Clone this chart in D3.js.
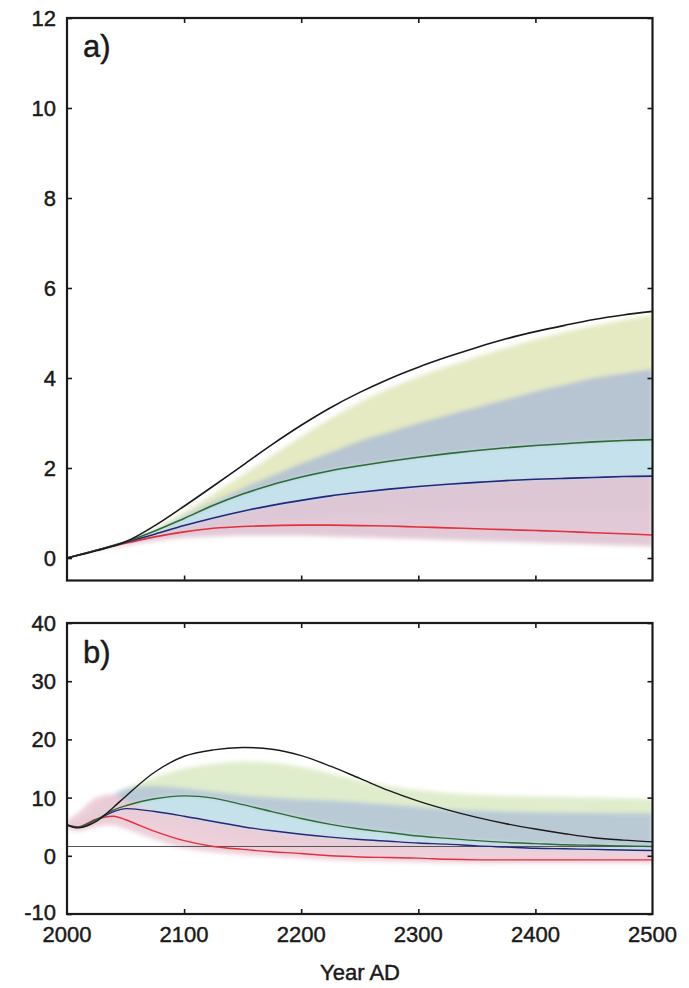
<!DOCTYPE html>
<html>
<head>
<meta charset="utf-8">
<script src="https://cdn.jsdelivr.net/npm/d3@7"></script>
<style>
  body { margin: 0; background: #fff; }
  svg { display: block; }
  text { font-family: "Liberation Sans", Arial, sans-serif; fill: #1a1a1a; stroke: #1a1a1a; stroke-width: 0.45px; }
</style>
</head>
<body>
<svg id="chart" width="689" height="988"></svg>
<script>
// panel a) years and series
const aYears = [2000, 2025, 2050, 2075, 2100, 2125, 2150, 2175, 2200, 2225, 2250,
  2275, 2300, 2325, 2350, 2375, 2400, 2425, 2450, 2475, 2500];
const aBlack = [0, 0.16, 0.36, 0.72, 1.15, 1.6, 2.06, 2.52, 2.95, 3.34, 3.68, 3.98, 4.24, 4.47, 4.68, 4.87, 5.03, 5.17, 5.3, 5.4, 5.48];
const aGreen = [0, 0.17, 0.36, 0.6, 0.88, 1.17, 1.42, 1.63, 1.8, 1.94, 2.05, 2.15, 2.24, 2.32, 2.39, 2.45, 2.5, 2.54, 2.58, 2.61, 2.63];
const aBlue = [0, 0.17, 0.35, 0.53, 0.72, 0.89, 1.04, 1.17, 1.28, 1.38, 1.46, 1.53, 1.59, 1.64, 1.68, 1.72, 1.75, 1.77, 1.79, 1.81, 1.82];
const aRed = [0, 0.17, 0.33, 0.47, 0.58, 0.66, 0.7, 0.72, 0.73, 0.73, 0.72, 0.71, 0.69, 0.67, 0.65, 0.63, 0.61, 0.59, 0.56, 0.54, 0.51];

// panel a) uncertainty bands (upper / lower)
const aYellowHi = [0, 0.16, 0.35, 0.66, 1.02, 1.43, 1.85, 2.28, 2.7, 3.1, 3.46, 3.77, 4.03, 4.26, 4.47, 4.67, 4.86, 5.02, 5.16, 5.29, 5.4];
const aYellowLo = [0, 0.16, 0.34, 0.56, 0.8, 1.05, 1.28, 1.48, 1.62, 1.75, 1.85, 1.93, 2.0, 2.06, 2.12, 2.17, 2.22, 2.26, 2.3, 2.33, 2.36];
const aGrayHi = [0, 0.16, 0.35, 0.6, 0.93, 1.25, 1.55, 1.83, 2.1, 2.35, 2.6, 2.8, 3.0, 3.18, 3.35, 3.52, 3.7, 3.85, 4.0, 4.1, 4.2];
const aGrayLo = [0, 0.16, 0.34, 0.5, 0.68, 0.85, 1.0, 1.12, 1.22, 1.3, 1.38, 1.45, 1.5, 1.55, 1.58, 1.6, 1.63, 1.65, 1.67, 1.69, 1.7];
const aCyanHi = [0, 0.16, 0.35, 0.6, 0.88, 1.17, 1.42, 1.63, 1.8, 1.94, 2.05, 2.15, 2.24, 2.32, 2.39, 2.45, 2.5, 2.54, 2.58, 2.61, 2.63];
const aCyanLo = [0, 0.16, 0.33, 0.48, 0.6, 0.7, 0.78, 0.85, 0.9, 0.95, 0.98, 1.0, 1.02, 1.03, 1.04, 1.05, 1.05, 1.05, 1.05, 1.05, 1.05];
const aPinkHi = [0, 0.16, 0.35, 0.53, 0.72, 0.89, 1.04, 1.17, 1.28, 1.38, 1.46, 1.53, 1.59, 1.64, 1.68, 1.72, 1.75, 1.77, 1.79, 1.81, 1.82];
const aPinkLo = [0, 0.15, 0.28, 0.38, 0.45, 0.48, 0.5, 0.5, 0.5, 0.48, 0.46, 0.44, 0.42, 0.4, 0.38, 0.36, 0.34, 0.32, 0.3, 0.28, 0.26];

// panel b) years and series
const bYears = [2000, 2010, 2025, 2040, 2050, 2075, 2100, 2125, 2150, 2175, 2200, 2225,
  2250, 2275, 2300, 2325, 2350, 2375, 2400, 2425, 2450, 2475, 2500];
const bBlack = [5.3, 4.8, 5.9, 8.4, 10.2, 14.4, 17.1, 18.2, 18.6, 18.3, 17.2, 15.4, 13.3, 11.2, 9.4, 7.9, 6.6, 5.5, 4.6, 3.8, 3.1, 2.7, 2.4];
const bGreen = [5.3, 4.9, 6.2, 7.9, 8.6, 9.8, 10.3, 9.9, 8.8, 7.6, 6.4, 5.4, 4.6, 4.0, 3.4, 3.0, 2.6, 2.3, 2.1, 1.9, 1.8, 1.7, 1.6];
const bBlue = [5.3, 4.9, 6.2, 7.6, 8.1, 7.6, 6.8, 5.9, 5.0, 4.3, 3.7, 3.2, 2.8, 2.5, 2.2, 2.0, 1.7, 1.5, 1.3, 1.2, 1.1, 1.0, 0.9];
const bRed = [5.3, 5.0, 6.3, 6.8, 6.2, 4.2, 2.6, 1.6, 1.1, 0.7, 0.4, 0.0, -0.2, -0.3, -0.4, -0.6, -0.7, -0.7, -0.7, -0.7, -0.7, -0.7, -0.7];

// panel b) uncertainty bands
const bYellowHi = [5.5, 6.0, 8.0, 10.0, 11.5, 13.5, 15.0, 15.8, 16.2, 16.0, 15.3, 14.2, 13.0, 12.0, 11.3, 10.8, 10.5, 10.3, 10.2, 10.1, 10.0, 9.9, 9.8];
const bYellowLo = [5.0, 4.6, 5.8, 7.2, 8.0, 8.8, 9.0, 8.6, 7.6, 6.6, 5.8, 4.9, 4.3, 3.8, 3.3, 2.9, 2.6, 2.4, 2.2, 2.0, 1.9, 1.8, 1.7];
const bGrayHi = [5.5, 6.0, 8.5, 10.5, 11.5, 12.0, 11.6, 11.0, 10.4, 10.0, 9.7, 9.5, 9.2, 8.8, 8.4, 8.0, 7.8, 7.6, 7.5, 7.4, 7.4, 7.3, 7.3];
const bGrayLo = [5.0, 4.6, 5.8, 7.0, 7.5, 7.0, 6.2, 5.4, 4.6, 4.0, 3.5, 3.0, 2.6, 2.3, 2.1, 1.9, 1.7, 1.5, 1.3, 1.2, 1.1, 1.0, 0.9];
const bCyanHi = [5.3, 4.9, 6.2, 7.9, 8.6, 9.8, 10.3, 9.9, 8.8, 7.6, 6.4, 5.4, 4.6, 4.0, 3.4, 3.0, 2.6, 2.3, 2.1, 1.9, 1.8, 1.7, 1.6];
const bCyanLo = [5.0, 4.6, 5.6, 6.5, 6.5, 5.5, 4.5, 3.5, 2.8, 2.2, 1.8, 1.4, 1.2, 1.0, 0.9, 0.8, 0.7, 0.6, 0.5, 0.5, 0.4, 0.4, 0.4];
const bPinkHi = [6.0, 7.5, 10.0, 10.5, 9.5, 7.6, 6.8, 5.9, 5.0, 4.3, 3.7, 3.2, 2.8, 2.5, 2.2, 2.0, 1.7, 1.5, 1.3, 1.2, 1.1, 1.0, 0.9];
const bPinkLo = [4.5, 4.3, 5.0, 5.2, 4.6, 2.8, 1.3, 0.6, 0.2, -0.1, -0.4, -0.7, -0.9, -1.0, -1.1, -1.2, -1.3, -1.3, -1.3, -1.3, -1.3, -1.3, -1.3];
const bRefLevel = 1.6;   // thin horizontal reference line in b)

// ticks
const xTicks = [2000, 2100, 2200, 2300, 2400, 2500];
const aYTicks = [0, 2, 4, 6, 8, 10, 12];
const bYTicks = [-10, 0, 10, 20, 30, 40];

const svg = d3.select('#chart');
svg.append('rect').attr('width', 689).attr('height', 988).attr('fill', '#fff');

const defs = svg.append('defs');
defs.append('filter').attr('id', 'soft')
  .attr('x', '-5%').attr('y', '-20%').attr('width', '110%').attr('height', '140%')
  .append('feGaussianBlur').attr('stdDeviation', 2.2);

const left = 67, right = 652.5;
const x = d3.scaleLinear().domain([2000, 2500]).range([left, right]);
const smooth = d3.curveCatmullRom.alpha(0.5);

function drawPanel(opts) {
  const { id, years, yDomain, yRange, yTicks, bands, lines, label, labelY } = opts;
  const y = d3.scaleLinear().domain(yDomain).range(yRange);
  const top = yRange[1], bottom = yRange[0];
  const g = svg.append('g');

  defs.append('clipPath').attr('id', 'clip-' + id)
    .append('rect').attr('x', left).attr('y', top)
    .attr('width', right - left).attr('height', bottom - top);

  // bands (drawn in order, later ones on top)
  const bandG = g.append('g').attr('clip-path', `url(#clip-${id})`)
    .append('g').attr('filter', 'url(#soft)');
  bands.forEach(b => {
    const area = d3.area()
      .x((d, i) => x(years[i]))
      .y0((d, i) => y(b.lo[i]))
      .y1((d, i) => y(b.hi[i]))
      .curve(smooth);
    bandG.append('path').datum(b.hi)
      .attr('fill', b.color).attr('opacity', 0.9)
      .attr('d', area);
  });

  const lineG = g.append('g').attr('clip-path', `url(#clip-${id})`);
  if (opts.refLevel !== undefined) {
    lineG.append('line')
      .attr('x1', left).attr('x2', right)
      .attr('y1', y(opts.refLevel)).attr('y2', y(opts.refLevel))
      .attr('stroke', '#555').attr('stroke-width', 1);
  }
  lines.forEach(l => {
    const line = d3.line()
      .x((d, i) => x(years[i]))
      .y(d => y(d))
      .curve(smooth);
    lineG.append('path').datum(l.values)
      .attr('fill', 'none').attr('stroke', l.color)
      .attr('stroke-width', l.width || 1.6)
      .attr('d', line);
  });

  // inward ticks on all four sides
  const tickStyle = sel => {
    sel.select('.domain').remove();
    sel.selectAll('.tick line').attr('stroke', '#1a1a1a').attr('stroke-width', 1.6);
  };
  g.append('g').attr('transform', `translate(${left},0)`)
    .call(d3.axisLeft(y).tickValues(yTicks).tickSize(-5).tickFormat(''))
    .call(tickStyle);
  g.append('g').attr('transform', `translate(${right},0)`)
    .call(d3.axisRight(y).tickValues(yTicks).tickSize(-5).tickFormat(''))
    .call(tickStyle);
  g.append('g').attr('transform', `translate(0,${bottom})`)
    .call(d3.axisBottom(x).tickValues(xTicks.slice(1, -1)).tickSize(-5).tickFormat(''))
    .call(tickStyle);
  g.append('g').attr('transform', `translate(0,${top})`)
    .call(d3.axisTop(x).tickValues(xTicks.slice(1, -1)).tickSize(-5).tickFormat(''))
    .call(tickStyle);

  // frame
  g.append('rect')
    .attr('x', left).attr('y', top)
    .attr('width', right - left).attr('height', bottom - top)
    .attr('fill', 'none').attr('stroke', '#1a1a1a').attr('stroke-width', 2.2);

  // y tick labels
  g.selectAll('.ylab').data(yTicks).join('text')
    .attr('x', 56).attr('y', d => y(d))
    .attr('dy', d => d === -10 ? '0.28em' : '0.36em')
    .attr('text-anchor', 'end')
    .style('font-size', '22px')
    .text(d => d);

  g.append('text')
    .attr('x', 83).attr('y', labelY)
    .style('font-size', '31px')
    .text(label);

  return y;
}

drawPanel({
  id: 'a', years: aYears,
  yDomain: [-0.5, 12], yRange: [580.5, 18], yTicks: aYTicks,
  bands: [
    { hi: aYellowHi, lo: aYellowLo, color: '#e2e8bc' },
    { hi: aGrayHi, lo: aGrayLo, color: '#b3c0d3' },
    { hi: aCyanHi, lo: aCyanLo, color: '#c6e5ee' },
    { hi: aPinkHi, lo: aPinkLo, color: '#dfc3d3' }
  ],
  lines: [
    { values: aRed, color: '#e3303c' },
    { values: aBlue, color: '#1d2a7e' },
    { values: aGreen, color: '#2d6b32' },
    { values: aBlack, color: '#1a1a1a' }
  ],
  label: 'a)', labelY: 57
});

drawPanel({
  id: 'b', years: bYears,
  yDomain: [-10, 40], yRange: [914, 623], yTicks: bYTicks,
  bands: [
    { hi: bYellowHi, lo: bYellowLo, color: '#dcebc6' },
    { hi: bGrayHi, lo: bGrayLo, color: '#b5c6d6' },
    { hi: bCyanHi, lo: bCyanLo, color: '#c6e4ec' },
    { hi: bPinkHi, lo: bPinkLo, color: '#eccbd6' }
  ],
  lines: [
    { values: bRed, color: '#e3303c', width: 1.4 },
    { values: bBlue, color: '#1d2a7e', width: 1.4 },
    { values: bGreen, color: '#2d6b32', width: 1.4 },
    { values: bBlack, color: '#1a1a1a', width: 1.4 }
  ],
  refLevel: bRefLevel,
  label: 'b)', labelY: 663
});

// x tick labels under panel b)
svg.selectAll('.xlab').data(xTicks).join('text')
  .attr('x', d => x(d)).attr('y', 942)
  .attr('text-anchor', 'middle')
  .style('font-size', '22px')
  .text(d => d);

svg.append('text')
  .attr('x', 360).attr('y', 980)
  .attr('text-anchor', 'middle')
  .style('font-size', '22px')
  .text('Year AD');
</script>
</body>
</html>
